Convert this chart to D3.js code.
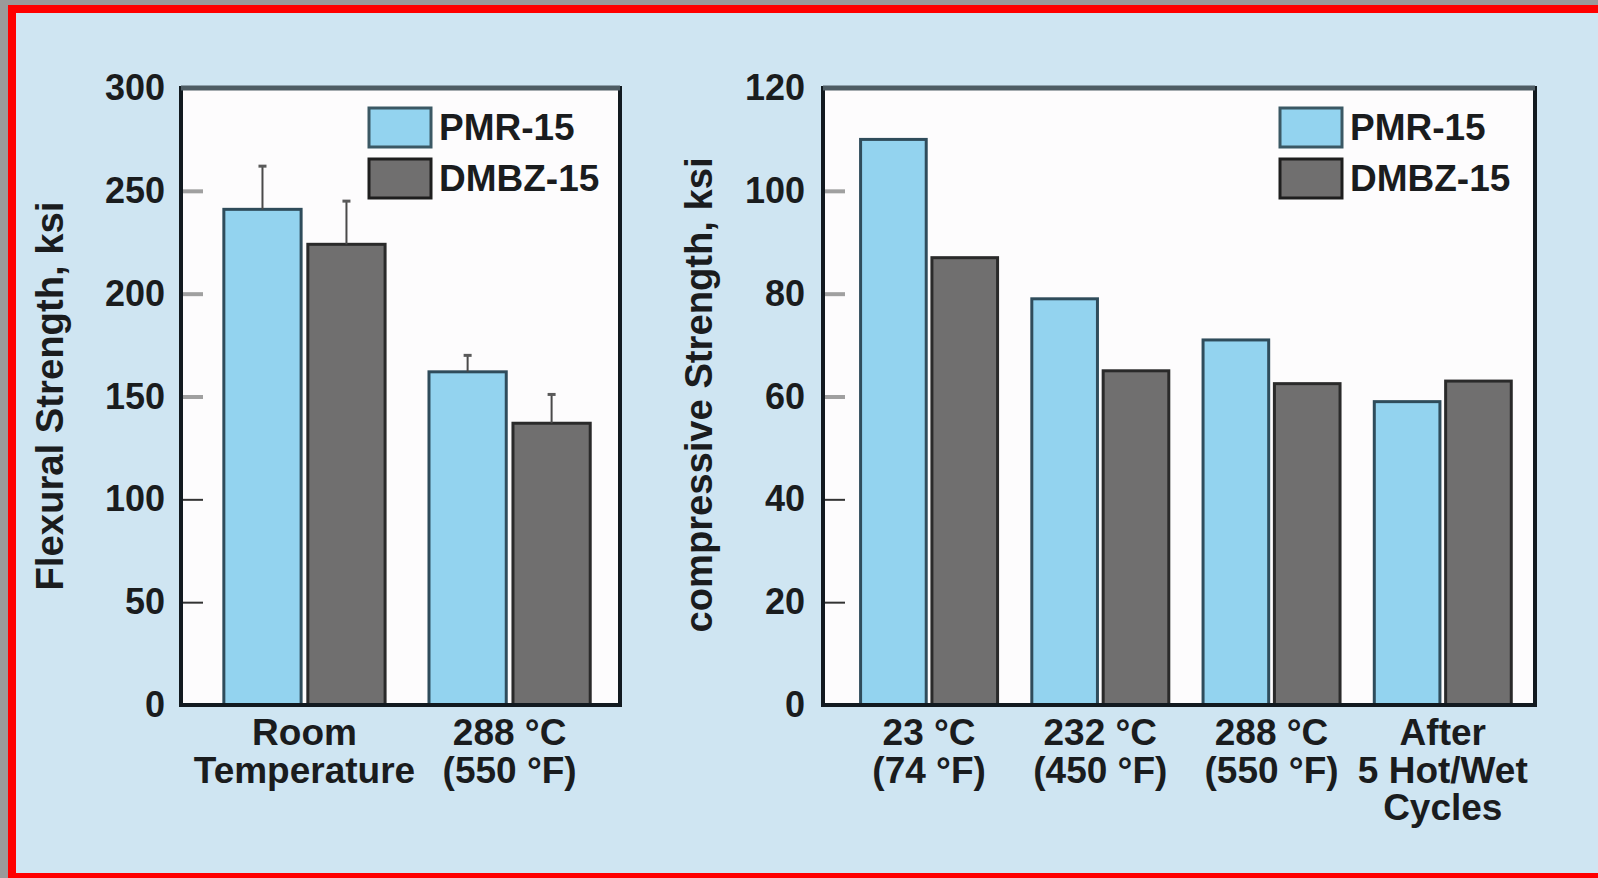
<!DOCTYPE html>
<html>
<head>
<meta charset="utf-8">
<script src="https://cdn.jsdelivr.net/npm/d3@7"></script>
<style>
  html, body { margin: 0; padding: 0; background: #cfe5f2; }
  svg { display: block; }
  text { font-family: "Liberation Sans", Arial, Helvetica, sans-serif; font-weight: bold; fill: #1a1c1e; }
</style>
</head>
<body>
<div id="chart"></div>
<script>
// data
const seriesNames = ["PMR-15", "DMBZ-15"];
const seriesFill = ["#93d3ef", "#706f6f"];
const seriesStroke = ["#2f4c5b", "#2a2a2a"];

const flexCategories = [["Room", "Temperature"], ["288 °C", "(550 °F)"]];
const flexPMR = [241, 162];
const flexDMBZ = [224, 137];
const flexPMRTop = [262, 170];   // top of error bar
const flexDMBZTop = [245, 151];
const flexTicks = [0, 50, 100, 150, 200, 250, 300];

const compCategories = [["23 °C", "(74 °F)"], ["232 °C", "(450 °F)"], ["288 °C", "(550 °F)"], ["After", "5 Hot/Wet", "Cycles"]];
const compPMR = [110, 79, 71, 59];
const compDMBZ = [87, 65, 62.5, 63];
const compTicks = [0, 20, 40, 60, 80, 100, 120];

const WIDTH = 1598, HEIGHT = 878;

const svg = d3.select("#chart")
  .append("svg")
  .attr("width", WIDTH)
  .attr("height", HEIGHT)
  .attr("viewBox", `0 0 ${WIDTH} ${HEIGHT}`);

// background
svg.append("rect")
  .attr("x", 0).attr("y", 0)
  .attr("width", WIDTH).attr("height", HEIGHT)
  .attr("fill", "#cfe5f2");

// gray + red frame (top, left, bottom)
svg.append("rect").attr("x", 0).attr("y", 0).attr("width", WIDTH).attr("height", 5).attr("fill", "#9a9a9a");
svg.append("rect").attr("x", 0).attr("y", 0).attr("width", 8).attr("height", HEIGHT).attr("fill", "#9a9a9a");
svg.append("rect").attr("x", 8).attr("y", 5).attr("width", WIDTH - 8).attr("height", 8).attr("fill", "#ff0000");
svg.append("rect").attr("x", 8).attr("y", 5).attr("width", 8).attr("height", HEIGHT - 5).attr("fill", "#ff0000");
svg.append("rect").attr("x", 8).attr("y", 873).attr("width", WIDTH - 8).attr("height", 5).attr("fill", "#ff0000");

const drawPanel = (p) => {
  const g = svg.append("g");

  const y = d3.scaleLinear()
    .domain([0, p.ticks[p.ticks.length - 1]])
    .range([p.bottom, p.top]);

  const x0 = d3.scaleBand()
    .domain(d3.range(p.categories.length))
    .range([p.left, p.right])
    .paddingInner(p.padIn)
    .paddingOuter(p.padOut)
    .align(p.align);

  const x1 = d3.scaleBand()
    .domain([0, 1])
    .range([0, x0.bandwidth()])
    .paddingInner(0.08);

  // plot area
  g.append("rect")
    .attr("x", p.left).attr("y", p.top)
    .attr("width", p.right - p.left).attr("height", p.bottom - p.top)
    .attr("fill", "#fdfcfd");

  // bars
  const values = [p.pmr, p.dmbz];
  values.forEach((vals, s) => {
    g.append("g")
      .selectAll("rect")
      .data(vals)
      .enter()
      .append("rect")
      .attr("x", (d, i) => x0(i) + x1(s))
      .attr("y", d => y(d))
      .attr("width", x1.bandwidth())
      .attr("height", d => y(0) - y(d))
      .attr("fill", seriesFill[s])
      .attr("stroke", seriesStroke[s])
      .attr("stroke-width", 3);
  });

  // error bars (upper only)
  if (p.errTop) {
    p.errTop.forEach((tops, s) => {
      const eg = g.append("g");
      tops.forEach((t, i) => {
        const cx = x0(i) + x1(s) + x1.bandwidth() / 2;
        eg.append("line")
          .attr("x1", cx).attr("x2", cx)
          .attr("y1", y(values[s][i])).attr("y2", y(t))
          .attr("stroke", "#4a4a4a").attr("stroke-width", 2);
        eg.append("line")
          .attr("x1", cx - 4).attr("x2", cx + 4)
          .attr("y1", y(t)).attr("y2", y(t))
          .attr("stroke", "#5a5a5a").attr("stroke-width", 3);
      });
    });
  }

  // inner tick marks (upper ones are lighter in the original)
  g.append("g")
    .attr("transform", `translate(${p.left},0)`)
    .call(d3.axisRight(y)
      .tickValues(p.ticks.slice(1, -1))
      .tickSize(22)
      .tickFormat(""))
    .call(a => a.select(".domain").remove())
    .selectAll(".tick line")
    .attr("stroke", (d, i, n) => i >= n.length - 3 ? "#a0a0a0" : "#333")
    .attr("stroke-width", (d, i, n) => i >= n.length - 3 ? 4 : 2);

  // frame
  g.append("rect")
    .attr("x", p.left).attr("y", p.top)
    .attr("width", p.right - p.left).attr("height", p.bottom - p.top)
    .attr("fill", "none")
    .attr("stroke", "#121a20")
    .attr("stroke-width", 4);
  g.append("line")
    .attr("x1", p.left).attr("x2", p.right)
    .attr("y1", p.top).attr("y2", p.top)
    .attr("stroke", "#4e5c64")
    .attr("stroke-width", 5);

  // y tick labels
  g.append("g")
    .attr("transform", `translate(${p.left},0)`)
    .call(d3.axisLeft(y)
      .tickValues(p.ticks)
      .tickSize(0)
      .tickPadding(p.labelPad))
    .call(a => a.select(".domain").remove())
    .selectAll("text")
    .attr("font-size", "36px")
    .attr("font-family", null)
    .attr("fill", "#1a1c1e");

  // x category labels
  const xa = g.append("g")
    .attr("transform", `translate(0,${p.bottom})`)
    .call(d3.axisBottom(x0)
      .tickSize(0)
      .tickFormat(""));
  xa.select(".domain").remove();
  xa.selectAll(".tick")
    .append("text")
    .attr("text-anchor", "middle")
    .attr("font-size", "37px")
    .selectAll("tspan")
    .data(i => p.categories[i])
    .enter()
    .append("tspan")
    .attr("x", 0)
    .attr("y", (d, j) => 40 + j * 37.5)
    .text(d => d);

  // y axis title
  g.append("text")
    .attr("transform", `translate(${p.titleX},${p.titleY}) rotate(-90)`)
    .attr("text-anchor", "middle")
    .attr("font-size", "38px")
    .attr("font-weight", "normal")
    .attr("textLength", p.titleLen)
    .attr("lengthAdjust", "spacingAndGlyphs")
    .text(p.title);

  // legend
  const lg = g.append("g")
    .attr("transform", `translate(${p.right - p.legendOffset},108)`);
  seriesNames.forEach((name, s) => {
    lg.append("rect")
      .attr("x", 0).attr("y", s * 51)
      .attr("width", 62).attr("height", 39)
      .attr("fill", seriesFill[s])
      .attr("stroke", s === 0 ? "#3b5864" : "#1e1e1e")
      .attr("stroke-width", 3);
    lg.append("text")
      .attr("x", 70).attr("y", s * 51 + 32)
      .attr("font-size", "37px")
      .text(name);
  });
};

drawPanel({
  left: 181, right: 620, top: 88, bottom: 705,
  padIn: 0.214, padOut: 0.177, align: 0.59,
  categories: flexCategories,
  pmr: flexPMR, dmbz: flexDMBZ,
  errTop: [flexPMRTop, flexDMBZTop],
  ticks: flexTicks,
  labelPad: 16,
  title: "Flexural Strength, ksi",
  titleX: 63, titleY: 396, titleLen: 389,
  legendOffset: 251
});

drawPanel({
  left: 823, right: 1535, top: 88, bottom: 705,
  padIn: 0.2, padOut: 0.179, align: 0.613,
  categories: compCategories,
  pmr: compPMR, dmbz: compDMBZ,
  errTop: null,
  ticks: compTicks,
  labelPad: 18,
  title: "compressive Strength, ksi",
  titleX: 712, titleY: 395, titleLen: 475,
  legendOffset: 255
});
</script>
</body>
</html>
